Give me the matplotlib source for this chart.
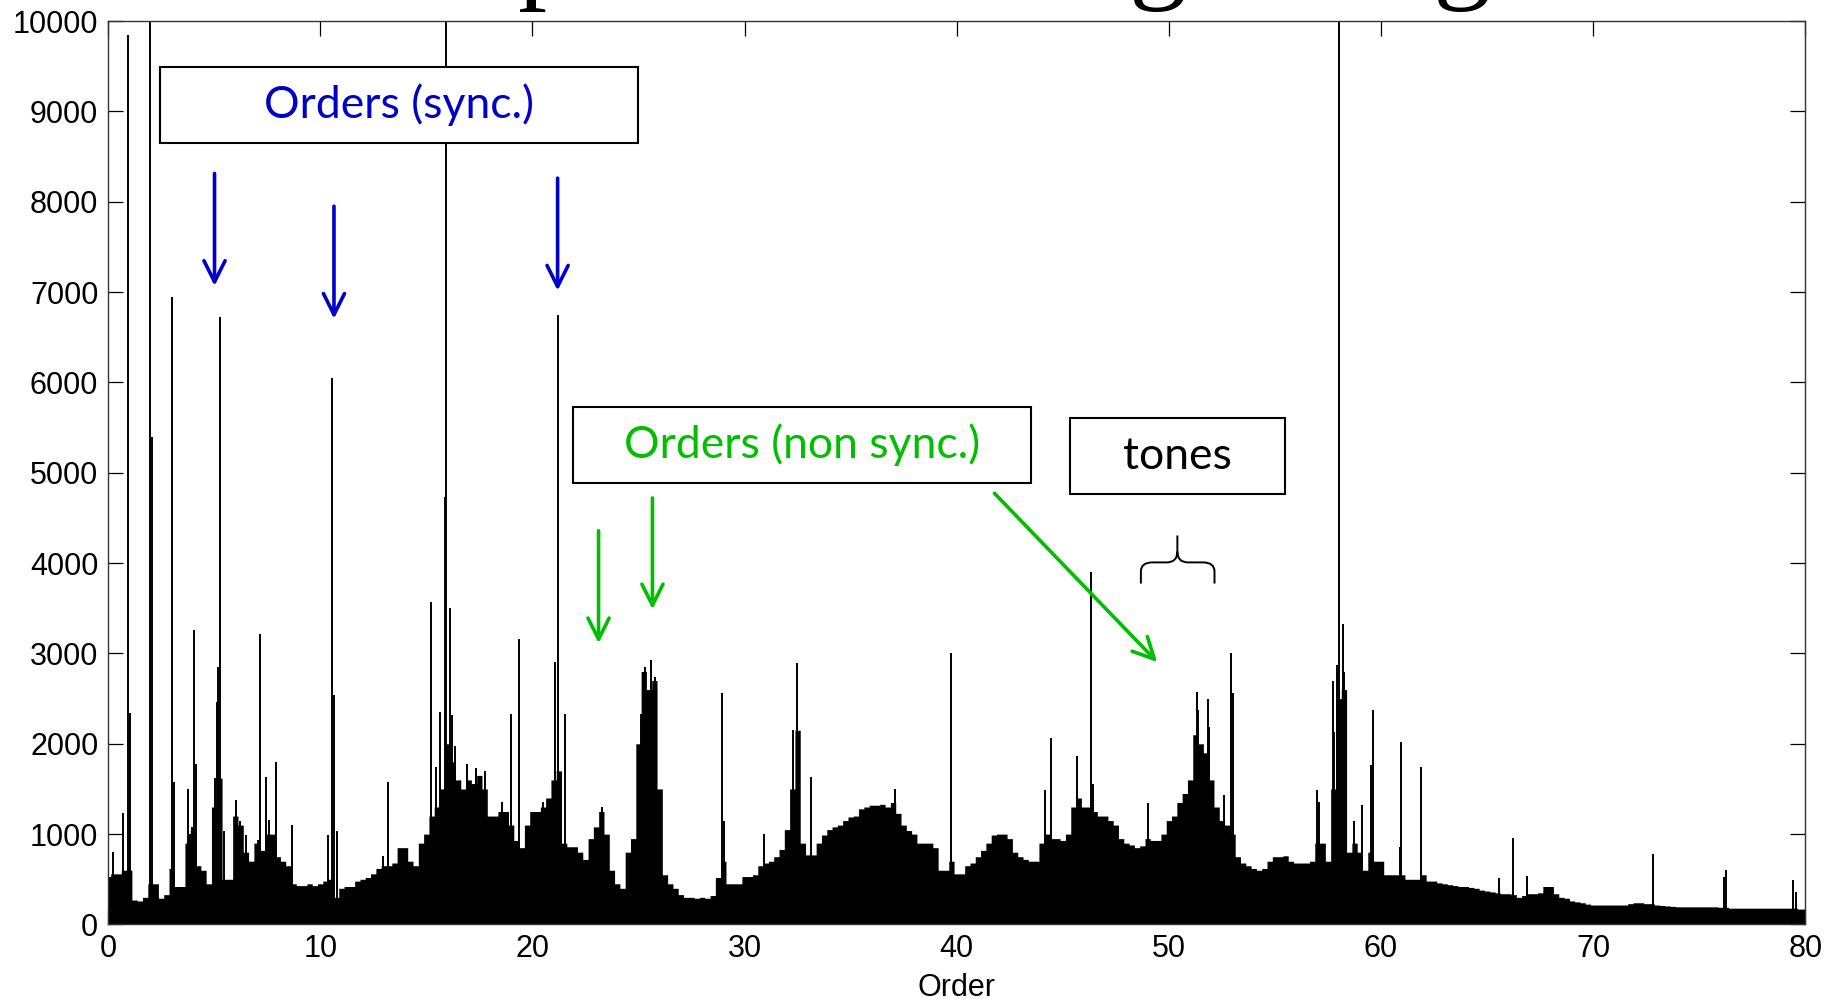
import numpy as np
import matplotlib.pyplot as plt
from matplotlib.patches import Rectangle, PathPatch
from matplotlib.path import Path

# broadband floor of the order spectrum, one value every 0.25 order (0 .. 80)
grid_step = 0.25
floor_level = [
    530, 560, 560, 600,      600, 270, 260, 300,      450, 450, 290, 330,
    620, 420, 420, 900,      1050, 650, 600, 450,     1300, 1620, 500, 500,
    1200, 1100, 800, 700,    900, 820, 1000, 1000,    750, 700, 650, 450,
    430, 430, 450, 430,      450, 480, 500, 300,      400, 420, 420, 480,
    500, 520, 560, 620,      650, 650, 680, 850,      850, 700, 650, 900,
    1000, 1200, 1300, 1500,  2000, 1800, 1600, 1500,  1600, 1560, 1650, 1500,
    1200, 1200, 1250, 1250,  1100, 930, 850, 1100,    1250, 1250, 1300, 1400,
    1600, 1700, 900, 860,    860, 800, 720, 950,      1080, 1250, 1000, 600,
    450, 400, 800, 950,      2000, 2800, 2600, 2700,  1500, 550, 450, 400,
    330, 300, 300, 290,      300, 290, 320, 520,      700, 450, 450, 450,
    530, 530, 550, 650,      680, 700, 750, 830,      1050, 1500, 2150, 900,
    770, 770, 900, 990,      1050, 1080, 1100, 1150,  1190, 1200, 1280, 1300,
    1320, 1320, 1330, 1300,  1350, 1230, 1100, 1040,  1000, 900, 900, 900,
    850, 600, 600, 700,      560, 560, 650, 680,      750, 820, 900, 990,
    1000, 1000, 950, 800,    750, 720, 700, 700,      900, 1000, 950, 950,
    930, 1000, 1300, 1400,   1300, 1300, 1250, 1200,  1200, 1150, 1100, 950,
    900, 880, 850, 870,      950, 930, 930, 1000,     1150, 1200, 1350, 1450,
    1600, 2100, 2000, 1900,  1600, 1300, 1150, 1100,  1000, 750, 680, 650,
    620, 600, 620, 700,      750, 750, 760, 700,      680, 680, 680, 700,
    900, 900, 700, 1500,     2500, 2600, 800, 900,    800, 600, 800, 700,
    700, 550, 550, 550,      550, 500, 500, 500,      550, 480, 480, 460,
    450, 440, 430, 420,      420, 410, 400, 380,      370, 360, 350, 340,
    340, 330, 300, 320,      340, 340, 350, 420,      420, 340, 300, 290,
    260, 250, 240, 225,      215, 215, 215, 215,      215, 215, 215, 230,
    240, 240, 230, 230,      215, 210, 205, 200,      195, 195, 195, 195,
    195, 195, 195, 195,      190, 190, 180, 180,      180, 180, 180, 180,
    180, 180, 180, 180,      180, 180, 180, 170,
    170,
]

# discrete lines standing above the floor
spike_order = [
    0.25, 0.72, 0.96, 1.04, 1.98, 2.09, 3.03, 3.09, 3.75, 3.85, 3.95, 4.05,
    4.14, 4.95, 5.05, 5.12, 5.17, 5.27, 5.46, 6.05, 6.20, 6.48, 7.05, 7.17,
    7.44, 7.60, 7.91, 8.68, 10.36, 10.58, 10.65, 10.80, 12.97, 13.20, 15.22,
    15.48, 15.67, 15.88, 15.94, 16.14, 16.20, 16.35, 16.90, 17.35, 17.75,
    18.57, 19.01, 19.36, 20.50, 20.98, 21.05, 21.21, 21.53, 23.30, 25.10,
    25.30, 25.61, 25.80, 28.95, 29.03, 30.94, 32.30, 32.47, 33.13, 37.07,
    39.74, 44.14, 44.45, 45.68, 46.34, 46.42, 49.00, 51.33, 51.39, 51.83,
    51.90, 52.62, 52.93, 53.00, 56.96, 57.09, 57.72, 57.80, 57.91, 58.03,
    58.19, 58.27, 58.74, 59.08, 59.52, 59.63, 60.90, 60.95, 61.88, 65.56,
    66.23, 66.87, 72.83, 76.16, 76.24, 79.43, 79.54,
]
spike_amp = [
    800, 1230, 9850, 2340, 14000, 5400, 6950, 1580, 1500, 1000, 1080, 3265,
    1780, 1080, 1620, 2465, 2845, 6730, 1040, 1375, 1150, 990, 935, 3220,
    1630, 1155, 1800, 1100, 990, 6050, 2540, 1040, 760, 1580, 3570,
    1745, 2350, 4735, 14000, 3500, 2320, 1970, 1780, 1730, 1700,
    1360, 2335, 3165, 1350, 1500, 2900, 6750, 2335, 1300, 2335,
    2850, 2925, 2740, 2560, 1150, 1000, 2150, 2890, 1635, 1500,
    3000, 1490, 2060, 1860, 3900, 1560, 1340, 2575, 2370, 2500,
    2190, 1430, 3000, 2560, 1490, 1360, 2690, 2130, 2870, 14000,
    3330, 2800, 1140, 1320, 1760, 2370, 860, 2020, 1745, 515,
    960, 535, 785, 530, 600, 490, 360,
]

blue = '#0000c8'
green = '#00be00'

orders = np.arange(len(floor_level)) * grid_step

fig = plt.figure(figsize=(18.37, 10.02), dpi=100)
ax = fig.add_axes([0.0588, 0.0774, 0.924, 0.9015])

ax.fill_between(orders, floor_level, step='mid', color='k', lw=0)
ax.vlines(spike_order, 0, spike_amp, color='k', lw=1.4)

ax.set_xlim(0, 80)
ax.set_ylim(0, 10000)
ax.set_xticks(range(0, 81, 10))
ax.set_yticks(range(0, 10001, 1000))
ax.tick_params(direction='in', length=11, width=0.9, top=True, right=True,
               labelsize=22, pad=7)
for lbl in ax.get_xticklabels() + ax.get_yticklabels():
    lbl.set_fontfamily('Liberation Sans')
for s in ax.spines.values():
    s.set_linewidth(1.0)
    s.set_color('#333333')
ax.set_xlabel('Order', fontsize=22, family='Liberation Sans', labelpad=6)

# slide title, mostly above the canvas
fig.text(0.247, 1.012, 'Spectrum of a gear signal', family='Liberation Serif',
         fontsize=83, va='baseline', ha='left')

# labelled boxes
boxes = [
    (2.43, 8651, 22.57, 843, 'Orders (sync.)', blue),
    (21.91, 4890, 21.58, 843, 'Orders (non sync.)', green),
    (45.36, 4760, 10.10, 843, 'tones', 'black'),
]
for x0, y0, w, h, txt, col in boxes:
    ax.add_patch(Rectangle((x0, y0), w, h, fill=True, facecolor='white',
                           edgecolor='black', lw=1.5, zorder=5))
    ax.text(x0 + w / 2, y0 + h / 2, txt, color=col, fontsize=32,
            family='Lato', ha='center', va='center', zorder=6)

arrows = [
    ((5.02, 8314), (5.02, 7069), blue),
    ((10.65, 7951), (10.65, 6706), blue),
    ((21.19, 8262), (21.19, 7017), blue),
    ((23.12, 4358), (23.12, 3113), green),
    ((25.66, 4721), (25.66, 3489), green),
    ((41.78, 4773), (49.45, 2905), green),
]
for start, end, col in arrows:
    ax.annotate('', xy=end, xytext=start, zorder=6,
                arrowprops=dict(arrowstyle='->', color=col, lw=2.6,
                                mutation_scale=38, shrinkA=0, shrinkB=0))

# curly brace over the tone group
bl, br, bm = 48.68, 52.15, 50.40
yb, ym, yt = 3774, 4008, 4306
verts = [
    (bl, yb), (bl, ym - 100), (bl, ym), (bl + 0.55, ym),
    (bm - 0.5, ym), (bm, ym), (bm, ym + 120), (bm, yt),
    (bm, ym + 120), (bm, ym), (bm + 0.5, ym),
    (br - 0.55, ym), (br, ym), (br, ym - 100), (br, yb),
]
codes = [Path.MOVETO, Path.LINETO, Path.CURVE3, Path.CURVE3,
         Path.LINETO, Path.CURVE3, Path.CURVE3, Path.LINETO,
         Path.MOVETO, Path.CURVE3, Path.CURVE3,
         Path.LINETO, Path.CURVE3, Path.CURVE3, Path.LINETO]
ax.add_patch(PathPatch(Path(verts, codes), fill=False, edgecolor='black',
                       lw=1.4, zorder=6))

fig.savefig('out.png', dpi=100)
